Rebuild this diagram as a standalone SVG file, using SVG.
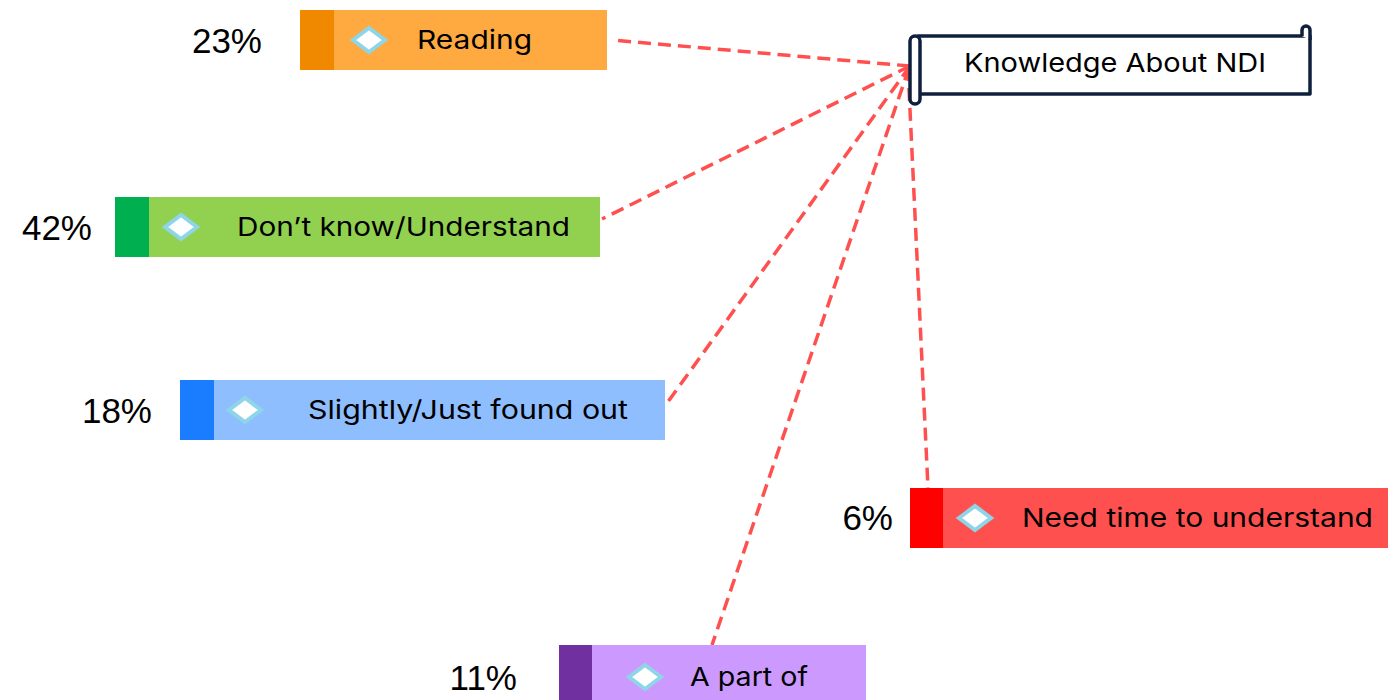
<svg xmlns="http://www.w3.org/2000/svg" width="1388" height="700" viewBox="0 0 1388 700">
<style>
.pct{font-family:"Liberation Sans",Arial,sans-serif;font-size:35px;fill:#000}
.lbl{font-family:"Inter","Open Sans",sans-serif;font-size:26px;fill:#000;font-weight:400}
.dia{fill:#fff;stroke:#8ED5E8;stroke-width:4;stroke-linejoin:miter}
.conn{stroke:#FF5050;stroke-width:3.5;stroke-dasharray:13 7;fill:none}
.scr{fill:#fff;stroke:#0F203F;stroke-width:3.5;stroke-linejoin:round}
</style>
<defs>
<path id="d" d="M-16,0 L0,-12 L16,0 L0,12 Z"/>
</defs>
<rect width="1388" height="700" fill="#fff"/>
<g id="connectors">
<line class="conn" x1="910" y1="66" x2="612" y2="40"/>
<line class="conn" x1="910" y1="66" x2="602" y2="219"/>
<line class="conn" x1="910" y1="66" x2="665" y2="406"/>
<line class="conn" x1="908" y1="68" x2="928" y2="488"/>
<line class="conn" x1="909" y1="68" x2="712" y2="645"/>
</g>
<g id="root">
<path class="scr" d="M918,36 H1310 V94 H918 Z"/>
<path class="scr" d="M1302,36 V30 A4,4 0 0 1 1310,30 V40"/>
<rect class="scr" x="910" y="36" width="10" height="68" rx="5"/>
<text class="lbl" x="1115" y="72" text-anchor="middle" textLength="302" lengthAdjust="spacingAndGlyphs">Knowledge About NDI</text>
</g>
<g id="reading">
<rect x="300" y="10" width="307" height="60" fill="#FFAA40"/>
<rect x="300" y="10" width="34" height="60" fill="#F08800"/>
<use href="#d" class="dia" x="369" y="40"/>
<text class="lbl" x="417" y="49" textLength="115" lengthAdjust="spacingAndGlyphs">Reading</text>
<text class="pct" x="262" y="53" text-anchor="end">23%</text>
</g>
<g id="dontknow">
<rect x="115" y="197" width="485" height="60" fill="#92D050"/>
<rect x="115" y="197" width="34" height="60" fill="#00B050"/>
<use href="#d" class="dia" x="181" y="227"/>
<text class="lbl" x="237" y="236" textLength="333" lengthAdjust="spacingAndGlyphs">Don’t know/Understand</text>
<text class="pct" x="92" y="240" text-anchor="end">42%</text>
</g>
<g id="slightly">
<rect x="180" y="380" width="485" height="60" fill="#8FBEFF"/>
<rect x="180" y="380" width="34" height="60" fill="#1A7DFF"/>
<use href="#d" class="dia" x="245" y="410"/>
<text class="lbl" x="308" y="419" textLength="320" lengthAdjust="spacingAndGlyphs">Slightly/Just found out</text>
<text class="pct" x="152" y="423" text-anchor="end">18%</text>
</g>
<g id="needtime">
<rect x="910" y="488" width="478" height="60" fill="#FF5050"/>
<rect x="910" y="488" width="33" height="60" fill="#FF0000"/>
<use href="#d" class="dia" x="975" y="518"/>
<text class="lbl" x="1022" y="527" textLength="351" lengthAdjust="spacingAndGlyphs">Need time to understand</text>
<text class="pct" x="893" y="530" text-anchor="end">6%</text>
</g>
<g id="apartof">
<rect x="559" y="645" width="307" height="60" fill="#CC99FF"/>
<rect x="559" y="645" width="33" height="60" fill="#7030A0"/>
<use href="#d" class="dia" x="645" y="677"/>
<text class="lbl" x="690" y="686" textLength="118" lengthAdjust="spacingAndGlyphs">A part of</text>
<text class="pct" x="517" y="690" text-anchor="end">11%</text>
</g>
</svg>
